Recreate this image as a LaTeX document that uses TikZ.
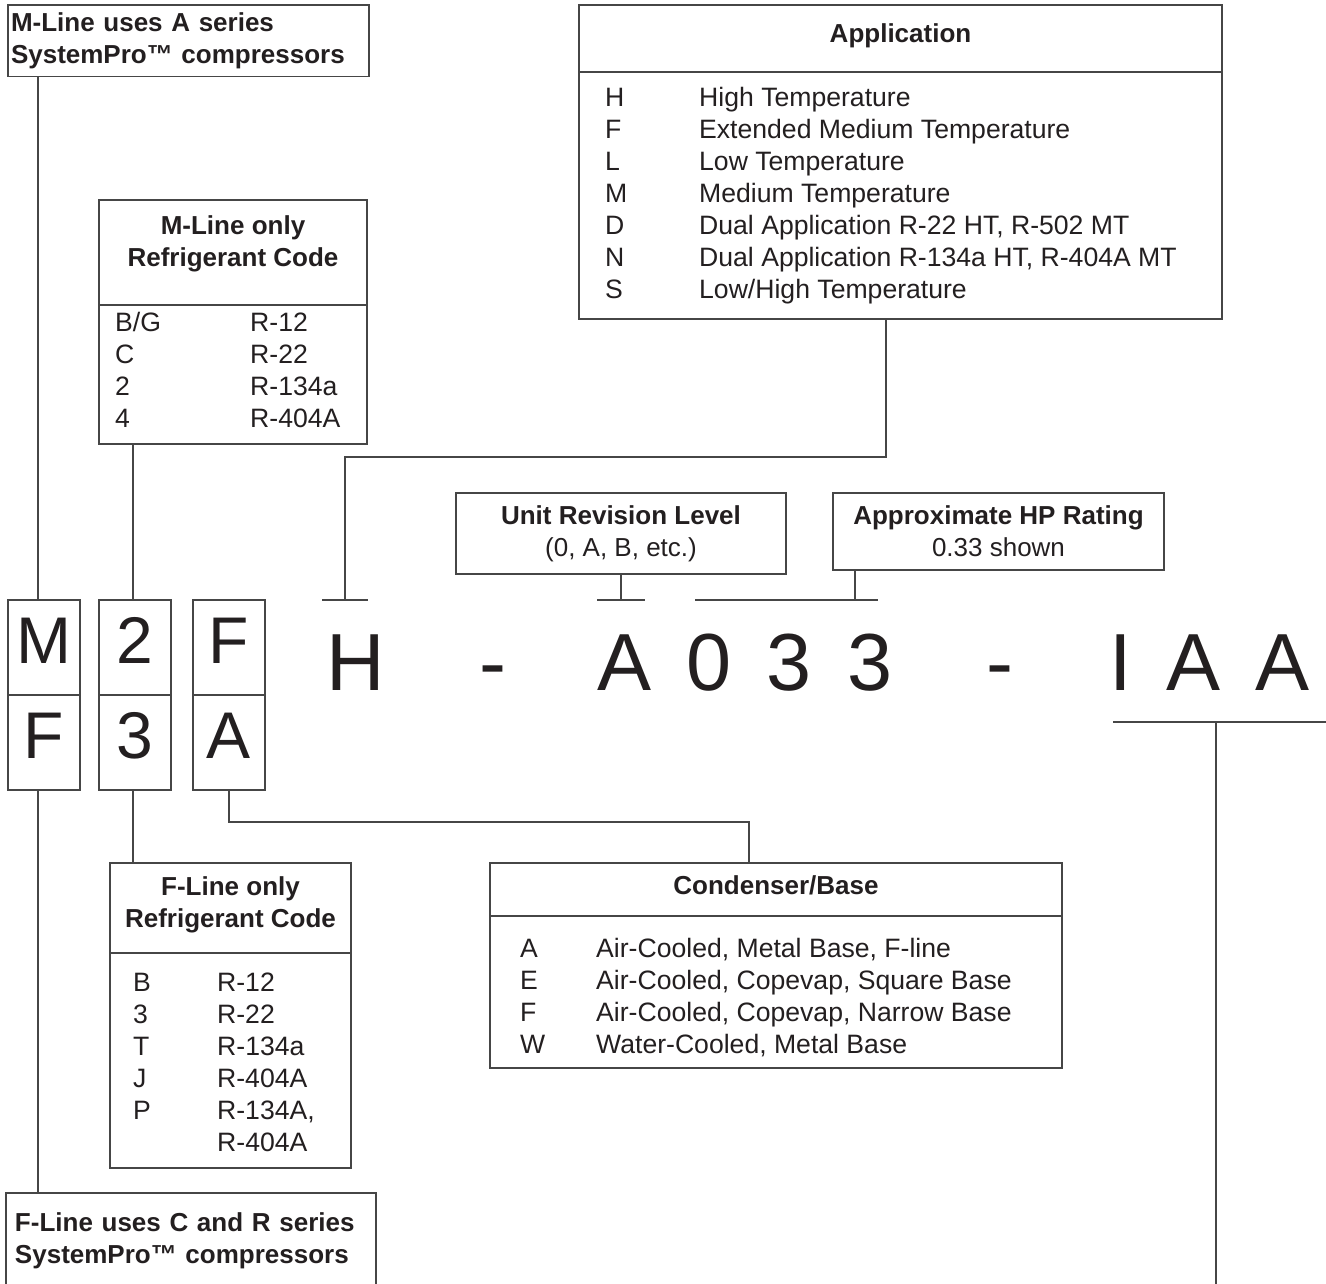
\documentclass[tikz,border=0pt]{standalone}
\usepackage{fontspec}
\setmainfont{Liberation Sans}
\usetikzlibrary{positioning,calc}
\definecolor{inkline}{RGB}{70,70,70}
\definecolor{inktext}{RGB}{35,31,32}
\newcommand{\txtsize}{\fontsize{26}{32}\selectfont}
\newcommand{\listsize}{\fontsize{26.6}{32}\selectfont}
\newcommand{\bigsize}{\fontsize{81}{90}\selectfont}
\newcommand{\cellsize}{\fontsize{66}{72}\selectfont}
\tikzset{
  frame/.style={rectangle,draw=inkline,line width=1.3pt,inner sep=0pt,outer sep=0pt,anchor=north west},
  note/.style={frame,align=left,font=\txtsize\bfseries,text=inktext},
  title/.style={align=center,font=\txtsize\bfseries,text=inktext,inner sep=0pt},
  codelist/.style={anchor=base west,inner sep=0pt,font=\listsize,text=inktext},
  labelbox/.style={frame,align=center,font=\txtsize,text=inktext},
  cell/.style={frame,minimum width=72pt,minimum height=95pt,font=\cellsize,text=inktext,text height=47pt,text depth=16pt},
  bigchar/.style={anchor=base,inner sep=0pt,font=\bigsize,text=inktext},
  link/.style={draw=inkline,line width=1.3pt}
}

\begin{document}
\begin{tikzpicture}[x=1pt,y=-1pt]
  \clip (0,0) rectangle (1326,1284);
  \fill[white] (0,0) rectangle (1326,1284);

  % compressor series notes
  \node[note,text width=355pt,inner xsep=3pt,inner ysep=7.5pt] (mnote) at (8,5) {M-Line uses A series\\SystemPro™ compressors};
  \node[note,text width=352pt,inner xsep=9pt,inner ysep=19.5pt] (fnote) at (6,1193) {F-Line uses C and R series\\SystemPro™ compressors};

  % refrigerant code tables
  \node[frame,minimum width=268pt,minimum height=105pt] (mrefhead) at (99,200) {};
  \node[frame,minimum width=268pt,minimum height=139pt,below=0pt of mrefhead] (mrefbody) {};
  \node[title] (mreftitle) at (233,244) {M-Line only\\Refrigerant Code};
  \node[codelist] (mreflist) at (115,331) {\begin{tabular}[t]{@{}p{135pt}@{}l@{}}
    B/G & R-12\\ C & R-22\\ 2 & R-134a\\ 4 & R-404A\end{tabular}};

  \node[frame,minimum width=241pt,minimum height=90pt] (frefhead) at (110,863) {};
  \node[frame,minimum width=241pt,minimum height=215pt,below=0pt of frefhead] (frefbody) {};
  \node[title] (freftitle) at (230.5,905) {F-Line only\\Refrigerant Code};
  \node[codelist] (freflist) at (133,991.5) {\begin{tabular}[t]{@{}p{84pt}@{}l@{}}
    B & R-12\\ 3 & R-22\\ T & R-134a\\ J & R-404A\\ P & R-134A,\\ & R-404A\end{tabular}};

  % application table
  \node[frame,minimum width=643pt,minimum height=67pt] (apphead) at (579,5) {};
  \node[frame,minimum width=643pt,minimum height=247pt,below=0pt of apphead] (appbody) {};
  \node[title,anchor=base] (apptitle) at (900.5,42.5) {Application};
  \node[codelist] (applist) at (605,106.5) {\begin{tabular}[t]{@{}p{94pt}@{}l@{}}
    H & High Temperature\\
    F & Extended Medium Temperature\\
    L & Low Temperature\\
    M & Medium Temperature\\
    D & Dual Application R-22 HT, R-502 MT\\
    N & Dual Application R-134a HT, R-404A MT\\
    S & Low/High Temperature\end{tabular}};

  % condenser table
  \node[frame,minimum width=572pt,minimum height=53pt] (condhead) at (490,863) {};
  \node[frame,minimum width=572pt,minimum height=152pt,below=0pt of condhead] (condbody) {};
  \node[title,anchor=base] (condtitle) at (776,894.5) {Condenser/Base};
  \node[codelist] (condlist) at (520,957.5) {\begin{tabular}[t]{@{}p{76pt}@{}l@{}}
    A & Air-Cooled, Metal Base, F-line\\
    E & Air-Cooled, Copevap, Square Base\\
    F & Air-Cooled, Copevap, Narrow Base\\
    W & Water-Cooled, Metal Base\end{tabular}};

  % small label boxes
  \node[labelbox,minimum width=330pt,minimum height=81pt] (revbox) at (456,493) {\textbf{Unit Revision Level}\\(0, A, B, etc.)};
  \node[labelbox,minimum width=331pt,minimum height=77pt] (hpbox) at (833,493) {\textbf{Approximate HP Rating}\\0.33 shown};

  % letter cells
  \node[cell] (serM) at (8,600) {M};
  \node[cell,below=0pt of serM] (serF) {F};
  \node[cell] (refM) at (99,600) {2};
  \node[cell,below=0pt of refM] (refF) {3};
  \node[cell] (baseM) at (193,600) {F};
  \node[cell,below=0pt of baseM] (baseF) {A};

  % model number
  \node[bigchar] (appchar) at (356,690) {H};
  \node[bigchar] (dashone) at (493,690) {-};
  \node[bigchar] (revchar) at (624.5,690) {A};
  \node[bigchar] (hpone) at (709,690) {0};
  \node[bigchar] (hptwo) at (789.5,690) {3};
  \node[bigchar] (hpthree) at (870,690) {3};
  \node[bigchar] (dashtwo) at (1000,690) {-};
  \node[bigchar] (optone) at (1120.5,690) {I};
  \node[bigchar] (opttwo) at (1193.5,690) {A};
  \node[bigchar] (optthree) at (1282.5,690) {A};

  % connectors
  \coordinate (hmark) at (345,600);
  \coordinate (appjog) at (345,457);
  \coordinate (revmark) at (621,600);
  \coordinate (hpmark) at (855,600);
  \coordinate (hpleft) at (695,600);
  \coordinate (hpright) at (878,600);
  \coordinate (optleft) at (1113,722);
  \coordinate (optright) at (1326,722);
  \coordinate (optdrop) at (1216,722);
  \coordinate (optend) at (1216,1284);

  \draw[link] ([xshift=30pt]mnote.south west) -- ([xshift=30pt]serM.north west);
  \draw[link] ([xshift=30pt]serF.south west) -- ([xshift=32pt]fnote.north west);
  \draw[link] ([xshift=34pt]mrefbody.south west) -- ([xshift=34pt]refM.north west);
  \draw[link] ([xshift=34pt]refF.south west) -- ([xshift=23pt]frefhead.north west);
  \draw[link] (baseF.south) -- ++(0,32) -| ([xshift=259pt]condhead.north west);
  \draw[link] ([xshift=307pt]appbody.south west) |- (appjog) -- (hmark);
  \draw[link] ([xshift=-23pt]hmark) -- ([xshift=23pt]hmark);
  \draw[link] (revbox.south) -- (revmark);
  \draw[link] ([xshift=-24pt]revmark) -- ([xshift=24pt]revmark);
  \draw[link] (hpmark |- hpbox.south) -- (hpmark);
  \draw[link] (hpleft) -- (hpright);
  \draw[link] (optleft) -- (optright);
  \draw[link] (optdrop) -- (optend);
\end{tikzpicture}
\end{document}
